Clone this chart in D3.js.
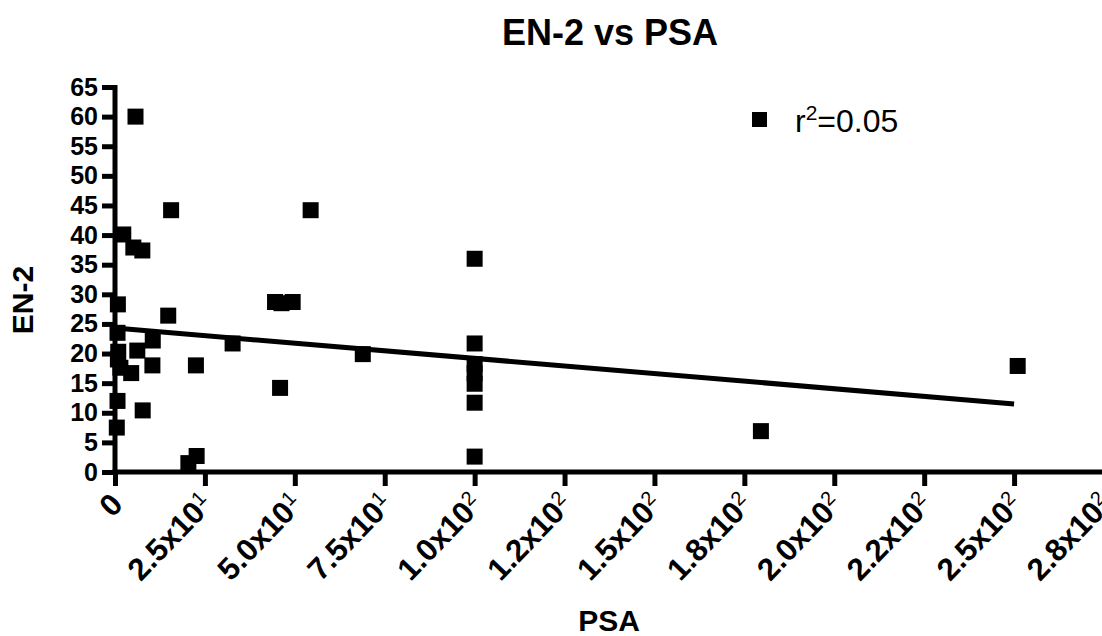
<!DOCTYPE html>
<html>
<head>
<meta charset="utf-8">
<script src="https://cdn.jsdelivr.net/npm/d3@7"></script>
<style>
  html, body { margin: 0; padding: 0; background: #fff; }
  svg { display: block; }
  text { font-family: "Liberation Sans", Arial, sans-serif; fill: #000; }
</style>
</head>
<body>
<svg id="chart" width="1102" height="636"></svg>
<script>
// ---- data ----
const psa = [5.7, 15.6, 2.3, 5.1, 7.6, 0.8, 14.8, 0.7, 10.5, 6.2, 0.9, 0.8, 1.5, 4.5, 10.4, 22.5,
             0.7, 7.7, 0.5, 22.7, 20.4, 54.4, 100, 44.5, 46.3, 49.4, 68.9, 45.9, 32.7,
             100, 100, 100, 100, 100, 100, 179.6, 251];
const en2 = [60.0, 44.2, 40.1, 37.9, 37.4, 28.3, 26.4, 23.5, 22.2, 20.5, 20.3, 19.0, 17.6, 16.7, 18.0, 18.0,
             12.0, 10.4, 7.5, 2.7, 1.5, 44.2, 36.0, 28.7, 28.5, 28.7, 19.9, 14.2, 21.7,
             21.7, 18.2, 16.7, 14.9, 11.7, 2.6, 6.9, 17.9];
const xTickValues = [0, 25, 50, 75, 100, 125, 150, 175, 200, 225, 250, 275];
const xTickMantissa = ["0", "2.5", "5.0", "7.5", "1.0", "1.2", "1.5", "1.8", "2.0", "2.2", "2.5", "2.8"];
const xTickExponent = ["", "1", "1", "1", "2", "2", "2", "2", "2", "2", "2", "2"];
const yTickValues = [0, 5, 10, 15, 20, 25, 30, 35, 40, 45, 50, 55, 60, 65];
const fitIntercept = [24.3];
const fitSlope = [-0.0512];
const fitRange = [0, 250];
const r2Label = ["0.05"];

// ---- layout ----
const svg = d3.select("#chart");
const x = d3.scaleLinear().domain([0, 275]).range([115, 1104]);
const y = d3.scaleLinear().domain([0, 65]).range([472, 87]);
const axisW = 5;

// title
svg.append("text").attr("x", 610).attr("y", 45).attr("text-anchor", "middle")
  .style("font-size", "36px").style("font-weight", "bold").text("EN-2 vs PSA");

// y axis
const yAxis = svg.append("g").attr("transform", `translate(${x(0)},0)`)
  .call(d3.axisLeft(y).tickValues(yTickValues).tickSize(13).tickPadding(4).tickFormat(d3.format("d")));
yAxis.select(".domain").attr("stroke", "#000").attr("stroke-width", axisW).attr("d", `M0,${y(0)+2.5}V${y(65)-2}`);
yAxis.selectAll(".tick line").attr("stroke", "#000").attr("stroke-width", axisW);
yAxis.selectAll(".tick text").style("font-size", "25px").style("font-weight", "bold")
  .attr("font-family", "Liberation Sans, Arial, sans-serif");

// x axis
const xAxis = svg.append("g").attr("transform", `translate(0,${y(0)})`)
  .call(d3.axisBottom(x).tickValues(xTickValues).tickSize(14).tickFormat(""));
xAxis.select(".domain").attr("stroke", "#000").attr("stroke-width", axisW).attr("d", `M${x(0)-2.5},0H${x(275)+2}`);
xAxis.selectAll(".tick line").attr("stroke", "#000").attr("stroke-width", axisW);
xAxis.selectAll(".tick").each(function (d, i) {
  const t = d3.select(this).append("text")
    .attr("text-anchor", "end")
    .attr("transform", "translate(9,34) rotate(-46)")
    .style("font-size", "31px").style("font-weight", "bold");
  if (xTickExponent[i] === "") {
    t.text(xTickMantissa[i]);
  } else {
    t.append("tspan").text(xTickMantissa[i] + "x10");
    t.append("tspan").attr("dy", "-0.5em").style("font-size", "20px").style("font-weight", "normal").text(xTickExponent[i]);
  }
});

// axis titles
svg.append("text").attr("x", 609).attr("y", 631).attr("text-anchor", "middle")
  .style("font-size", "30px").style("font-weight", "bold").text("PSA");
svg.append("text").attr("transform", "translate(33,300) rotate(-90)").attr("text-anchor", "middle")
  .style("font-size", "30px").style("font-weight", "bold").text("EN-2");

// regression line
svg.append("line")
  .attr("x1", x(fitRange[0])).attr("y1", y(fitIntercept[0] + fitSlope[0] * fitRange[0]))
  .attr("x2", x(fitRange[1])).attr("y2", y(fitIntercept[0] + fitSlope[0] * fitRange[1]))
  .attr("stroke", "#000").attr("stroke-width", 5);

// points
const s = 16;
svg.append("g").selectAll("rect").data(psa.map((p, i) => [p, en2[i]])).join("rect")
  .attr("x", d => x(d[0]) - s / 2).attr("y", d => y(d[1]) - s / 2)
  .attr("width", s).attr("height", s).attr("fill", "#000");

// legend
svg.append("rect").attr("x", 752).attr("y", 112).attr("width", 15).attr("height", 15).attr("fill", "#000");
const lt = svg.append("text").attr("x", 795).attr("y", 132).style("font-size", "32px");
lt.append("tspan").text("r");
lt.append("tspan").attr("dy", "-0.55em").style("font-size", "21px").text("2");
lt.append("tspan").attr("dy", "0.35em").text("=" + r2Label[0]);
</script>
</body>
</html>
